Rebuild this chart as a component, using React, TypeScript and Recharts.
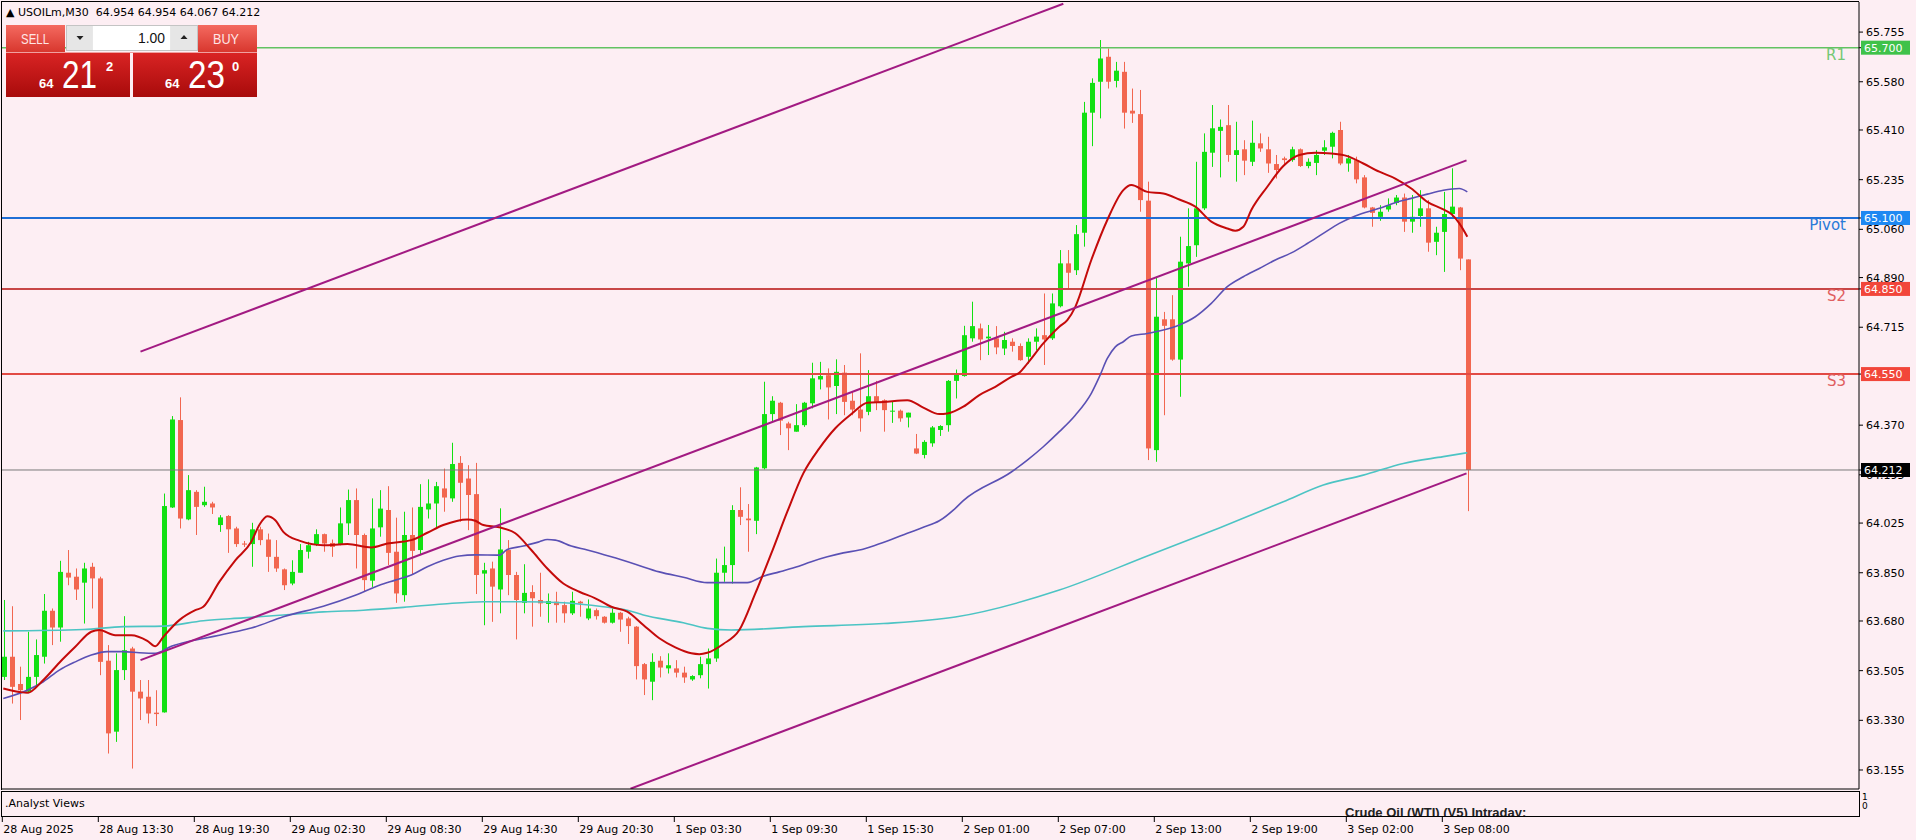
import React from 'react';
import { ComposedChart, Bar, Line, XAxis, YAxis, ReferenceLine } from 'recharts';

// USOILm M30 candles (index 0 = first visible bar)
const opens = [
  63.483, 63.554, 63.458, 63.431, 63.483, 63.554, 63.716, 63.657, 63.850, 63.836,
  63.815, 63.871, 63.830, 63.540, 63.290, 63.507, 63.583, 63.431, 63.413, 63.357,
  63.358, 64.080, 64.388, 64.038, 64.135, 64.088, 64.094, 64.018, 64.050, 64.006,
  63.953, 63.951, 64.003, 63.967, 63.906, 63.862, 63.812, 63.850, 63.924, 63.951,
  63.986, 63.955, 63.951, 64.024, 64.106, 63.983, 63.822, 64.010, 64.071, 63.924,
  63.771, 63.983, 63.930, 64.073, 64.094, 64.147, 64.112, 64.237, 64.182, 64.127,
  63.847, 63.865, 63.791, 63.930, 63.842, 63.744, 63.782, 63.754, 63.740, 63.748,
  63.736, 63.707, 63.748, 63.689, 63.718, 63.695, 63.674, 63.709, 63.689, 63.660,
  63.528, 63.466, 63.540, 63.513, 63.513, 63.498, 63.474, 63.489, 63.528, 63.548,
  63.850, 63.877, 64.071, 64.041, 64.033, 64.218, 64.409, 64.449, 64.376, 64.347,
  64.370, 64.447, 64.531, 64.546, 64.508, 64.555, 64.456, 64.425, 64.417, 64.472,
  64.458, 64.418, 64.421, 64.397, 64.288, 64.265, 64.306, 64.353, 64.370, 64.526,
  64.543, 64.676, 64.711, 64.676, 64.676, 64.640, 64.664, 64.649, 64.611, 64.664,
  64.687, 64.676, 64.789, 64.940, 64.916, 65.048, 65.471, 65.580, 65.668, 65.583,
  65.615, 65.478, 65.466, 65.161, 64.282, 64.743, 64.743, 64.601, 64.940, 65.004,
  65.134, 65.330, 65.407, 65.427, 65.322, 65.342, 65.298, 65.363, 65.342, 65.290,
  65.310, 65.304, 65.342, 65.283, 65.294, 65.337, 65.351, 65.410, 65.292, 65.304,
  65.243, 65.137, 65.104, 65.130, 65.153, 65.172, 65.087, 65.107, 65.134, 65.016,
  65.051, 65.114, 65.137, 64.954,
];

const highs = [
  63.754, 63.732, 63.519, 63.642, 63.615, 63.775, 63.724, 63.892, 63.930, 63.865,
  63.885, 63.885, 63.836, 63.595, 63.566, 63.697, 63.589, 63.472, 63.472, 63.436,
  64.129, 64.402, 64.468, 64.194, 64.141, 64.153, 64.100, 64.053, 64.053, 64.012,
  63.962, 64.026, 64.012, 63.988, 63.965, 63.865, 63.894, 63.951, 63.959, 64.003,
  63.988, 63.967, 64.080, 64.143, 64.147, 63.988, 64.112, 64.141, 64.155, 64.044,
  64.065, 64.080, 64.162, 64.179, 64.170, 64.217, 64.308, 64.261, 64.229, 64.237,
  63.885, 63.889, 64.077, 63.965, 63.853, 63.880, 63.806, 63.850, 63.777, 63.783,
  63.748, 63.783, 63.751, 63.756, 63.724, 63.697, 63.724, 63.712, 63.695, 63.662,
  63.532, 63.566, 63.556, 63.566, 63.542, 63.519, 63.489, 63.554, 63.583, 63.900,
  63.942, 64.088, 64.151, 64.092, 64.223, 64.523, 64.472, 64.452, 64.382, 64.444,
  64.452, 64.590, 64.593, 64.570, 64.602, 64.582, 64.488, 64.623, 64.564, 64.526,
  64.461, 64.452, 64.425, 64.414, 64.339, 64.317, 64.367, 64.370, 64.529, 64.566,
  64.720, 64.805, 64.728, 64.723, 64.719, 64.699, 64.676, 64.658, 64.676, 64.711,
  64.834, 64.834, 64.987, 64.987, 65.075, 65.509, 65.592, 65.727, 65.697, 65.650,
  65.650, 65.556, 65.551, 65.228, 64.893, 64.769, 64.828, 65.034, 65.134, 65.298,
  65.398, 65.498, 65.447, 65.498, 65.439, 65.374, 65.443, 65.398, 65.386, 65.322,
  65.316, 65.351, 65.345, 65.310, 65.339, 65.374, 65.404, 65.439, 65.322, 65.316,
  65.251, 65.139, 65.145, 65.169, 65.181, 65.186, 65.181, 65.198, 65.163, 65.069,
  65.192, 65.275, 65.139, 64.954,
];

const lows = [
  63.472, 63.389, 63.331, 63.425, 63.454, 63.530, 63.595, 63.607, 63.806, 63.754,
  63.671, 63.724, 63.489, 63.213, 63.254, 63.472, 63.160, 63.331, 63.319, 63.310,
  63.357, 64.078, 64.006, 64.035, 63.983, 64.082, 64.057, 63.994, 63.920, 63.941,
  63.941, 63.871, 63.947, 63.853, 63.853, 63.789, 63.806, 63.850, 63.900, 63.944,
  63.924, 63.906, 63.947, 63.983, 63.865, 63.783, 63.800, 63.977, 63.877, 63.744,
  63.748, 63.842, 63.912, 64.041, 64.006, 64.065, 64.100, 64.030, 64.000, 63.775,
  63.665, 63.677, 63.707, 63.771, 63.615, 63.707, 63.660, 63.695, 63.674, 63.674,
  63.674, 63.701, 63.695, 63.683, 63.685, 63.671, 63.671, 63.642, 63.599, 63.474,
  63.419, 63.401, 63.481, 63.495, 63.481, 63.462, 63.469, 63.478, 63.442, 63.536,
  63.818, 63.812, 64.018, 63.924, 63.986, 64.214, 64.382, 64.335, 64.282, 64.347,
  64.364, 64.429, 64.496, 64.390, 64.409, 64.405, 64.405, 64.347, 64.405, 64.423,
  64.347, 64.378, 64.382, 64.362, 64.268, 64.253, 64.294, 64.332, 64.347, 64.464,
  64.541, 64.664, 64.599, 64.617, 64.620, 64.617, 64.629, 64.597, 64.587, 64.634,
  64.582, 64.670, 64.785, 64.852, 64.899, 64.999, 65.353, 65.451, 65.556, 65.560,
  65.415, 65.435, 65.122, 64.247, 64.241, 64.405, 64.597, 64.470, 64.858, 64.963,
  65.128, 65.280, 65.243, 65.298, 65.228, 65.251, 65.283, 65.333, 65.259, 65.239,
  65.286, 65.298, 65.280, 65.275, 65.251, 65.322, 65.310, 65.286, 65.263, 65.222,
  65.134, 65.069, 65.090, 65.122, 65.145, 65.051, 65.048, 65.069, 64.981, 64.969,
  64.910, 65.104, 64.916, 64.067,
];

const closes = [
  63.554, 63.448, 63.436, 63.483, 63.560, 63.716, 63.657, 63.853, 63.833, 63.791,
  63.865, 63.830, 63.536, 63.284, 63.507, 63.577, 63.431, 63.407, 63.354, 63.352,
  64.085, 64.390, 64.041, 64.141, 64.082, 64.100, 64.080, 64.045, 64.003, 63.951,
  63.949, 64.003, 63.965, 63.906, 63.865, 63.806, 63.853, 63.930, 63.947, 63.986,
  63.953, 63.941, 64.024, 64.106, 63.983, 63.824, 64.006, 64.076, 63.920, 63.777,
  63.983, 63.927, 64.082, 64.094, 64.155, 64.115, 64.233, 64.167, 64.124, 63.842,
  63.859, 63.801, 63.932, 63.842, 63.754, 63.779, 63.760, 63.742, 63.750, 63.736,
  63.707, 63.751, 63.742, 63.724, 63.697, 63.674, 63.709, 63.685, 63.662, 63.521,
  63.474, 63.536, 63.516, 63.524, 63.498, 63.481, 63.486, 63.528, 63.548, 63.850,
  63.877, 64.071, 64.047, 64.035, 64.221, 64.409, 64.456, 64.386, 64.359, 64.370,
  64.449, 64.535, 64.543, 64.503, 64.558, 64.452, 64.425, 64.394, 64.472, 64.452,
  64.423, 64.421, 64.394, 64.414, 64.270, 64.311, 64.362, 64.367, 64.526, 64.552,
  64.687, 64.719, 64.672, 64.682, 64.644, 64.670, 64.649, 64.599, 64.664, 64.682,
  64.672, 64.799, 64.940, 64.907, 65.043, 65.471, 65.576, 65.662, 65.580, 65.619,
  65.471, 65.468, 65.163, 64.288, 64.752, 64.720, 64.601, 64.946, 65.001, 65.134,
  65.333, 65.416, 65.421, 65.322, 65.339, 65.302, 65.365, 65.345, 65.292, 65.269,
  65.304, 65.342, 65.283, 65.298, 65.322, 65.349, 65.400, 65.292, 65.310, 65.236,
  65.137, 65.118, 65.122, 65.145, 65.172, 65.087, 65.104, 65.134, 65.013, 65.048,
  65.114, 65.140, 64.957, 64.212,
];

// moving averages, sampled at [bar index, price]
const fastMa = [
  [0, 63.442], [2, 63.430], [3, 63.427], [5, 63.472], [7, 63.533], [9, 63.589], [11, 63.642],
  [12, 63.648], [14, 63.630], [16, 63.630], [18, 63.610], [19, 63.591], [20, 63.624], [22, 63.683],
  [24, 63.718], [25, 63.730], [27, 63.818], [29, 63.894], [31, 63.959], [32, 64.018], [33, 64.049],
  [34, 64.035], [35, 63.994], [37, 63.963], [40, 63.947], [43, 63.951], [46, 63.939], [48, 63.953],
  [51, 63.965], [53, 63.991], [55, 64.018], [58, 64.038], [59, 64.033], [60, 64.018], [62, 64.010],
  [64, 63.989], [66, 63.930], [68, 63.865], [70, 63.812], [72, 63.783], [74, 63.760], [76, 63.730],
  [78, 63.713], [80, 63.666], [82, 63.619], [84, 63.587], [86, 63.566], [87, 63.563], [88, 63.568],
  [90, 63.599], [92, 63.648], [94, 63.777], [96, 63.918], [98, 64.065], [100, 64.200], [102, 64.288],
  [104, 64.359], [106, 64.409], [108, 64.449], [110, 64.452], [113, 64.458], [115, 64.432],
  [117, 64.409], [118, 64.411], [120, 64.435], [122, 64.476], [124, 64.505], [126, 64.540],
  [127, 64.555], [128, 64.587], [130, 64.658], [132, 64.717], [133, 64.740], [134, 64.787],
  [136, 64.952], [138, 65.093], [140, 65.198], [141, 65.216], [143, 65.192], [145, 65.186],
  [147, 65.165], [149, 65.140], [151, 65.087], [153, 65.063], [154, 65.055], [155, 65.069],
  [156, 65.128], [158, 65.210], [160, 65.283], [162, 65.322], [164, 65.330], [166, 65.327],
  [168, 65.318], [170, 65.292], [172, 65.263], [174, 65.239], [176, 65.204], [178, 65.157],
  [180, 65.130], [181, 65.114], [182, 65.081], [183, 65.034],
];

const midMa = [
  [0, 63.407], [3, 63.436], [5, 63.466], [7, 63.507], [9, 63.536], [11, 63.560], [13, 63.572],
  [15, 63.572], [17, 63.568], [19, 63.566], [21, 63.591], [23, 63.607], [25, 63.618], [27, 63.630],
  [29, 63.642], [31, 63.655], [35, 63.695], [40, 63.732], [44, 63.771], [47, 63.806], [49, 63.824],
  [51, 63.842], [53, 63.871], [55, 63.894], [57, 63.909], [59, 63.913], [62, 63.912], [63, 63.932],
  [65, 63.944], [67, 63.959], [68, 63.967], [69, 63.965], [71, 63.944], [73, 63.930], [76, 63.906],
  [79, 63.880], [82, 63.853], [85, 63.834], [88, 63.815], [93, 63.815], [95, 63.838], [97, 63.853],
  [99, 63.869], [101, 63.889], [103, 63.906], [105, 63.920], [107, 63.930], [109, 63.947],
  [111, 63.967], [113, 63.989], [115, 64.010], [117, 64.033], [119, 64.077], [120, 64.104],
  [126, 64.205], [128, 64.247], [130, 64.294], [132, 64.347], [134, 64.405], [136, 64.482],
  [137, 64.540], [138, 64.605], [139, 64.646], [140, 64.664], [141, 64.684], [143, 64.693],
  [145, 64.705], [147, 64.723], [149, 64.752], [151, 64.799], [153, 64.858], [155, 64.893],
  [157, 64.922], [159, 64.952], [161, 64.977], [163, 65.010], [165, 65.046], [167, 65.081],
  [169, 65.107], [172, 65.134], [174, 65.154], [176, 65.169], [178, 65.184], [180, 65.198],
  [182, 65.204], [183, 65.192],
];

const slowMa = [
  [0, 63.645], [10, 63.650], [15, 63.660], [20, 63.662], [25, 63.681], [30, 63.691], [35, 63.701],
  [40, 63.712], [45, 63.718], [50, 63.728], [55, 63.740], [60, 63.748], [65, 63.748], [70, 63.744],
  [75, 63.730], [78, 63.718], [80, 63.701], [85, 63.674], [88, 63.654], [91, 63.648], [100, 63.660],
  [110, 63.671], [119, 63.694], [132, 63.789], [143, 63.909], [152, 64.008], [160, 64.100],
  [165, 64.159], [170, 64.194], [175, 64.235], [180, 64.259], [183, 64.273],
];

// channel lines, [bar index, price] start and end
const channelUpper = [[17.15, 64.629], [132.5, 65.855]];
const channelMiddle = [[17.15, 63.542], [182.9, 65.303]];
const channelLower = [[78.4, 63.089], [182.9, 64.200]];

const levelNames = ['R1', 'Pivot', 'S2', 'S3'];
const levelValues = [65.7, 65.1, 64.85, 64.55];
const levelColors = ['#62c262', '#1f6fd6', '#c84646', '#e24a44'];
const levelTextColors = ['#74c874', '#2a7ad8', '#e05f5f', '#e05f5f'];
const levelBoxColors = ['#3fc24a', '#1e88f2', '#f2463a', '#f2463a'];
const bidPrice = 64.212;

const priceTicks = [
  65.755, 65.58, 65.41, 65.235, 65.06, 64.89, 64.715,
  64.37, 64.195, 64.025, 63.85, 63.68, 63.505, 63.33, 63.155,
];

const timeTicks = [0, 12, 24, 36, 48, 60, 72, 84, 96, 108, 120, 132, 144, 156, 168, 180];
const timeLabels = [
  '28 Aug 2025', '28 Aug 13:30', '28 Aug 19:30', '29 Aug 02:30', '29 Aug 08:30',
  '29 Aug 14:30', '29 Aug 20:30', '1 Sep 03:30', '1 Sep 09:30', '1 Sep 15:30',
  '2 Sep 01:00', '2 Sep 07:00', '2 Sep 13:00', '2 Sep 19:00', '3 Sep 02:00', '3 Sep 08:00',
];

const UP = '#12e012';
const DOWN = '#f2664f';
const BG = '#fdeef3';
const FONT = '"DejaVu Sans", Verdana, sans-serif';

const fastMap = new Map(fastMa.map(([i, v]) => [i, v]));
const midMap = new Map(midMa.map(([i, v]) => [i, v]));
const slowMap = new Map(slowMa.map(([i, v]) => [i, v]));

const rows = opens.map((o, i) => ({
  i,
  o,
  h: highs[i],
  l: lows[i],
  c: closes[i],
  range: [lows[i], highs[i]],
  fast: fastMap.has(i) ? fastMap.get(i) : null,
  mid: midMap.has(i) ? midMap.get(i) : null,
  slow: slowMap.has(i) ? slowMap.get(i) : null,
}));

// price boxes go last so they paint over the plain tick labels
const axisTicks = [...priceTicks, ...levelValues, bidPrice];

const Candle = (props: any) => {
  const { x, y, width, height, payload } = props;
  if (!payload) return null;
  const { o, h, l, c } = payload;
  const top = Math.min(y, y + height);
  const span = Math.abs(height);
  const k = span / (h - l || 1);
  const yAt = (v: number) => top + (h - v) * k;
  const color = c >= o ? UP : DOWN;
  const cx = Math.round(x + width / 2) + 0.5;
  const bTop = yAt(Math.max(o, c));
  const bBot = yAt(Math.min(o, c));
  return (
    <g>
      <line x1={cx} x2={cx} y1={top} y2={top + span} stroke={color} strokeWidth={1} />
      <rect x={cx - 2.5} y={bTop} width={5} height={Math.max(1, bBot - bTop)} fill={color} />
    </g>
  );
};

const TimeTick = (props: any) => {
  const { x, y, payload } = props;
  const k = timeTicks.indexOf(payload.value);
  return (
    <g>
      <line x1={x - 1} x2={x - 1} y1={y + 27} y2={y + 33} stroke="#000" />
      <text x={x} y={y + 44} fontSize={11} fontFamily={FONT} fill="#000">
        {timeLabels[k]}
      </text>
    </g>
  );
};

const PriceTick = (props: any) => {
  const { x, y, payload } = props;
  const v = payload.value;
  const k = levelValues.indexOf(v);
  if (k >= 0 || v === bidPrice) {
    const fill = k >= 0 ? levelBoxColors[k] : '#000';
    return (
      <g>
        <rect x={x - 5} y={y - 7} width={49} height={14} fill={fill} />
        <text x={x - 2} y={y + 4} fontSize={11} fontFamily={FONT} fill="#fff">
          {v.toFixed(3)}
        </text>
      </g>
    );
  }
  return (
    <text x={x} y={y + 4} fontSize={11} fontFamily={FONT} fill="#000">
      {v.toFixed(3)}
    </text>
  );
};

const levelLabel = (name: string, textColor: string) => (props: any) => {
  const vb = props.viewBox || {};
  return (
    <text x={vb.x + vb.width - 13} y={vb.y + 12} textAnchor="end" fontSize={15} fontFamily={FONT} fill={textColor}>
      {name}
    </text>
  );
};

const TradePanel = () => (
  <svg width={262} height={100} style={{ position: 'absolute', left: 0, top: 0 }}>
    <defs>
      <linearGradient id="btn" x1="0" y1="0" x2="0" y2="1">
        <stop offset="0%" stopColor="#f46a60" />
        <stop offset="100%" stopColor="#d8372e" />
      </linearGradient>
      <linearGradient id="box" x1="0" y1="0" x2="0" y2="1">
        <stop offset="0%" stopColor="#da2424" />
        <stop offset="100%" stopColor="#a80b0b" />
      </linearGradient>
    </defs>
    <rect x={6} y={25} width={59} height={27} fill="url(#btn)" />
    <text x={21} y={44} fontSize={15} fontFamily="Liberation Sans, sans-serif" fill="#ffe6e6" textLength={28} lengthAdjust="spacingAndGlyphs">SELL</text>
    <rect x={66.5} y={25.5} width={131} height={25} fill="#e8e8e8" stroke="#c4c4c4" />
    <rect x={67} y={26} width={25} height={24} fill="#e6e6e6" />
    <path d="M76.5 36 L83.5 36 L80 40 Z" fill="#222" />
    <rect x={93} y={26} width={77} height={24} fill="#fff" />
    <text x={165} y={43} textAnchor="end" fontSize={15} fontFamily="Liberation Sans, sans-serif" fill="#111" textLength={27} lengthAdjust="spacingAndGlyphs">1.00</text>
    <rect x={171} y={26} width={26} height={24} fill="#e6e6e6" />
    <path d="M180.5 39 L187.5 39 L184 35 Z" fill="#222" />
    <rect x={198} y={25} width={59} height={27} fill="url(#btn)" />
    <text x={213} y={44} fontSize={15} fontFamily="Liberation Sans, sans-serif" fill="#ffe6e6" textLength={26} lengthAdjust="spacingAndGlyphs">BUY</text>
    <rect x={6} y={52} width={124} height={45} fill="url(#box)" />
    <rect x={133} y={52} width={124} height={45} fill="url(#box)" />
    <line x1={6} x2={257} y1={52.5} y2={52.5} stroke="#f0a0a0" />
    <text x={39} y={88} fontSize={13} fontWeight="bold" fontFamily="Liberation Sans, sans-serif" fill="#fff">64</text>
    <text x={62} y={88} fontSize={38} fontFamily="Liberation Sans, sans-serif" fill="#fff" textLength={35} lengthAdjust="spacingAndGlyphs">21</text>
    <text x={106} y={71} fontSize={13} fontWeight="bold" fontFamily="Liberation Sans, sans-serif" fill="#fff">2</text>
    <text x={165} y={88} fontSize={13} fontWeight="bold" fontFamily="Liberation Sans, sans-serif" fill="#fff">64</text>
    <text x={188} y={88} fontSize={38} fontFamily="Liberation Sans, sans-serif" fill="#fff" textLength={37} lengthAdjust="spacingAndGlyphs">23</text>
    <text x={232} y={71} fontSize={13} fontWeight="bold" fontFamily="Liberation Sans, sans-serif" fill="#fff">0</text>
  </svg>
);

const seg = (pts: number[][]) => pts.map(([x, y]) => ({ x, y }));

export default function App() {
  return (
    <div style={{ position: 'absolute', left: 0, top: 0, width: 1916, height: 840, background: BG, overflow: 'hidden' }}>
      <ComposedChart width={1916} height={840} data={rows} margin={{ top: 2, right: 0, left: 2, bottom: 0 }}>
        <XAxis
          type="number"
          dataKey="i"
          domain={[-0.1625, 231.96]}
          ticks={timeTicks}
          interval={0}
          tick={<TimeTick />}
          tickLine={false}
          tickSize={0}
          tickMargin={0}
          axisLine={{ stroke: '#000' }}
          height={51}
          allowDataOverflow
        />
        <YAxis
          orientation="right"
          width={57}
          domain={[63.088, 65.861]}
          ticks={axisTicks}
          interval={0}
          tickSize={4}
          tickMargin={3}
          axisLine={{ stroke: '#000' }}
          tickLine={{ stroke: '#000' }}
          tick={<PriceTick />}
          allowDataOverflow
        />
        {levelValues.map((v, k) => (
          <ReferenceLine
            key={levelNames[k]}
            y={v}
            stroke={levelColors[k]}
            strokeWidth={k === 0 ? 1.5 : 2}
            label={levelLabel(levelNames[k], levelTextColors[k])}
          />
        ))}
        <ReferenceLine y={bidPrice} stroke="#7a7a7a" strokeWidth={1} />
        <Bar dataKey="range" barSize={5} shape={<Candle />} isAnimationActive={false} />
        <Line dataKey="slow" type="monotone" stroke="#4cc4c4" strokeWidth={1.6} dot={false} connectNulls isAnimationActive={false} />
        <Line dataKey="mid" type="monotone" stroke="#5a50b4" strokeWidth={1.6} dot={false} connectNulls isAnimationActive={false} />
        <Line dataKey="fast" type="monotone" stroke="#c40a0a" strokeWidth={2} dot={false} connectNulls isAnimationActive={false} />
        <ReferenceLine segment={seg(channelUpper)} stroke="#a21a82" strokeWidth={2} ifOverflow="hidden" />
        <ReferenceLine segment={seg(channelMiddle)} stroke="#a21a82" strokeWidth={2} ifOverflow="hidden" />
        <ReferenceLine segment={seg(channelLower)} stroke="#a21a82" strokeWidth={2} ifOverflow="hidden" />
      </ComposedChart>

      <div style={{ position: 'absolute', left: 1, top: 1, width: 1858, height: 789, borderTop: '1px solid #000', borderLeft: '1px solid #000', boxSizing: 'border-box', pointerEvents: 'none' }} />
      <div style={{ position: 'absolute', left: 6, top: 6, font: `11px ${FONT}`, color: '#000', whiteSpace: 'pre' }}>
        {'▲ USOILm,M30  64.954 64.954 64.067 64.212'}
      </div>
      <TradePanel />

      <div style={{ position: 'absolute', left: 1, top: 791, width: 1859, height: 26, border: '1px solid #000', boxSizing: 'border-box', overflow: 'hidden' }}>
        <div style={{ position: 'absolute', left: 3, top: 5, font: `11px ${FONT}`, color: '#000' }}>.Analyst Views</div>
        <div style={{ position: 'absolute', left: 1343, top: 13, font: 'bold 13px "Liberation Sans", sans-serif', color: '#222', whiteSpace: 'nowrap' }}>
          Crude Oil (WTI) (V5) Intraday:
        </div>
      </div>
      <div style={{ position: 'absolute', left: 1862, top: 793, font: `9px ${FONT}`, color: '#000', lineHeight: '9px' }}>
        1<br />0
      </div>
    </div>
  );
}
